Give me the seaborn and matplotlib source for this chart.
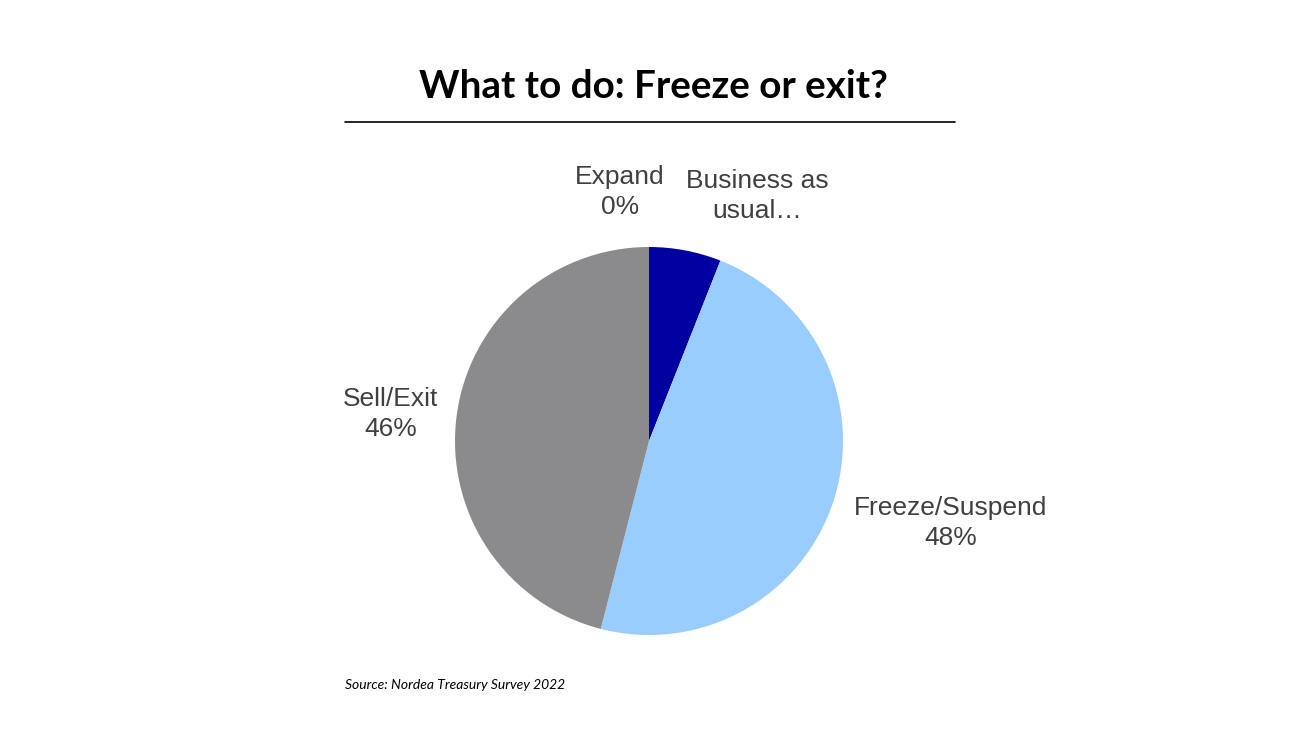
import matplotlib
matplotlib.use("Agg")
import matplotlib.pyplot as plt
import seaborn as sns

# Dados da pesquisa
categorias = ["Expand", "Business as usual", "Freeze/Suspend", "Sell/Exit"]
rotulos = ["Expand\n0%", "Business as\nusual…", "Freeze/Suspend\n48%", "Sell/Exit\n46%"]
valores = [0, 6, 48, 46]
cores = ["#7F7F7F", "#0000A0", "#99CCFF", "#8B8B8D"]

sns.set_theme(style="white")
plt.rcParams["font.family"] = ["Liberation Sans", "DejaVu Sans"]

fig = plt.figure(figsize=(13, 7.31), dpi=100)
ax = fig.add_axes([0, 0, 1, 1])

# pizza em sentido horário a partir do topo
cx, cy, r = 649, 731 - 441, 194
ax.pie(valores, colors=cores, startangle=90, counterclock=False,
       center=(cx, cy), radius=r, wedgeprops=dict(linewidth=0),
       frame=True)
ax.set_xlim(0, 1300)
ax.set_ylim(0, 731)
ax.set_aspect("equal")
ax.axis("off")

# posições dos rótulos
pos_rotulos = [(620, 731 - 192), (757, 731 - 196), (951, 731 - 523), (391, 731 - 414)]
for txt, (x, y) in zip(rotulos, pos_rotulos):
    ax.text(x, y, txt, ha="center", va="center", fontsize=19,
            color="#404040", linespacing=1.28)

# título e linha
ax.text(653, 731 - 86, "What to do: Freeze or exit?", ha="center", va="center",
        fontsize=27.8, fontweight="bold", family=["Lato", "DejaVu Sans"], color="black")
ax.plot([345, 955], [731 - 122, 731 - 122], color="black", linewidth=1.2)

# fonte
ax.text(345, 731 - 685, "Source: Nordea Treasury Survey 2022", ha="left", va="center",
        fontsize=10, style="italic", family=["Lato", "DejaVu Sans"], color="black")

plt.savefig("out.png", dpi=100)
